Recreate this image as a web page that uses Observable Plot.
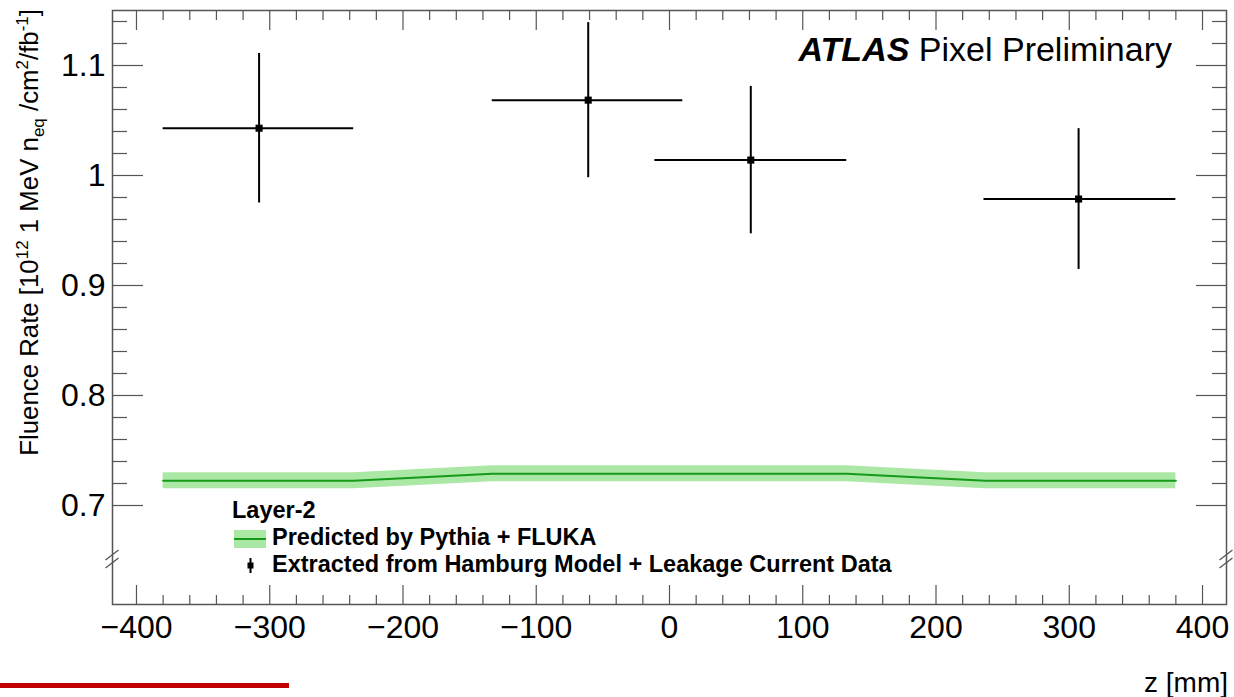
<!DOCTYPE html>
<html>
<head>
<meta charset="utf-8">
<script src="https://cdn.jsdelivr.net/npm/d3@7"></script>
<script src="https://cdn.jsdelivr.net/npm/@observablehq/plot@0.6"></script>
<style>
  body { margin: 0; background: #fff; }
  svg { font-family: "Liberation Sans", Arial, Helvetica, sans-serif; }
</style>
</head>
<body>
<div id="chart"></div>
<script>
// Measured data (Layer-2)
const zCenter = [-308, -61, 61, 307];
const zLow = [-380, -133, -11, 236];
const zHigh = [-237, 10, 133, 380];
const fluence = [1.043, 1.0685, 1.014, 0.9786];
const fluenceErr = [0.068, 0.0705, 0.067, 0.064];

// Prediction (Pythia + FLUKA)
const predZ = [-380, -237, -133, 133, 237, 380];
const predValue = [0.7225, 0.7225, 0.7288, 0.7288, 0.7225, 0.7225];
const predErr = [0.0073, 0.0073, 0.0073, 0.0073, 0.0073, 0.0073];

// Axis ticks
const xMajorTicks = [-400, -300, -200, -100, 0, 100, 200, 300, 400];
const xMinorTicks = [-380, -360, -340, -320, -280, -260, -240, -220, -180, -160, -140, -120,
  -80, -60, -40, -20, 20, 40, 60, 80, 120, 140, 160, 180, 220, 240, 260, 280, 320, 340, 360, 380];
const yMajorTicks = [0.7, 0.8, 0.9, 1.0, 1.1];
const yMinorTicks = [0.72, 0.74, 0.76, 0.78, 0.82, 0.84, 0.86, 0.88, 0.92, 0.94, 0.96, 0.98,
  1.02, 1.04, 1.06, 1.08, 1.12, 1.14];
const yBreak = 0.651;

const xDomain = [-418, 418];
const yDomain = [0.61, 1.15];

const points = zCenter.map((z, i) => ({z, lo: zLow[i], hi: zHigh[i], v: fluence[i], e: fluenceErr[i]}));
const pred = predZ.map((z, i) => ({z, v: predValue[i], e: predErr[i]}));

const axisColor = "#555";

const chart = Plot.plot({
  width: 1234,
  height: 697,
  marginLeft: 112,
  marginRight: 8,
  marginTop: 10,
  marginBottom: 93,
  style: {fontFamily: "'Liberation Sans', Arial, sans-serif", background: "#fff"},
  x: {domain: xDomain},
  y: {domain: yDomain},
  marks: [
    Plot.areaY(pred, {x: "z", y1: d => d.v - d.e, y2: d => d.v + d.e, fill: "#abe8a6"}),
    Plot.lineY(pred, {x: "z", y: "v", stroke: "#17991a", strokeWidth: 2}),
    Plot.ruleY(points, {x1: "lo", x2: "hi", y: "v", stroke: "#000", strokeWidth: 2}),
    Plot.ruleX(points, {x: "z", y1: d => d.v - d.e, y2: d => d.v + d.e, stroke: "#000", strokeWidth: 2}),
    Plot.dot(points, {x: "z", y: "v", symbol: "square", r: 4, fill: "#000", stroke: null}),
    Plot.frame({stroke: axisColor, strokeWidth: 1.5}),
    // bottom ticks (inward)
    Plot.axisX({anchor: "bottom", ticks: xMajorTicks, tickSize: -19, fill: "none", stroke: axisColor, strokeWidth: 1.2, label: null}),
    Plot.axisX({anchor: "bottom", ticks: xMinorTicks, tickSize: -9, fill: "none", stroke: axisColor, strokeWidth: 1.2, label: null}),
    // top ticks (inward)
    Plot.axisX({anchor: "top", ticks: xMajorTicks, tickSize: -19, fill: "none", stroke: axisColor, strokeWidth: 1.2, label: null}),
    Plot.axisX({anchor: "top", ticks: xMinorTicks, tickSize: -9, fill: "none", stroke: axisColor, strokeWidth: 1.2, label: null}),
    // x tick labels
    Plot.axisX({anchor: "bottom", ticks: xMajorTicks, tickSize: 0, tickPadding: 11, fontSize: 32, fill: "#000", label: null,
      tickFormat: d => (d < 0 ? "\u2212" + Math.abs(d) : String(d))}),
    // left ticks
    Plot.axisY({anchor: "left", ticks: yMajorTicks, tickSize: -31, fill: "none", stroke: axisColor, strokeWidth: 1.2, label: null}),
    Plot.axisY({anchor: "left", ticks: yMinorTicks, tickSize: -15, fill: "none", stroke: axisColor, strokeWidth: 1.2, label: null}),
    // right ticks
    Plot.axisY({anchor: "right", ticks: yMajorTicks, tickSize: -31, fill: "none", stroke: axisColor, strokeWidth: 1.2, label: null}),
    Plot.axisY({anchor: "right", ticks: yMinorTicks, tickSize: -15, fill: "none", stroke: axisColor, strokeWidth: 1.2, label: null}),
    // y tick labels
    Plot.axisY({anchor: "left", ticks: yMajorTicks, tickSize: 0, tickPadding: 7, fontSize: 32, fill: "#000", label: null,
      tickFormat: d => String(+d.toFixed(2))})
  ]
});

document.getElementById("chart").appendChild(chart);

const svg = d3.select(chart);
const ff = "'Liberation Sans', Arial, sans-serif";
const xs = chart.scale("x"), ys = chart.scale("y");

// axis break marks ("//") on both vertical axes, placed through the y scale
const by = ys.apply(yBreak);
for (const px of [xs.apply(xDomain[0]), xs.apply(xDomain[1])]) {
  for (const off of [-4, 4]) {
    svg.append("line")
      .attr("x1", px - 6.5).attr("y1", by + off + 5)
      .attr("x2", px + 6.5).attr("y2", by + off - 5)
      .attr("stroke", axisColor).attr("stroke-width", 1.3);
  }
}

// y-axis title
const yt = svg.append("text")
  .attr("transform", "translate(38,9) rotate(-90)")
  .attr("text-anchor", "end")
  .attr("font-size", 25.8)
  .attr("font-family", ff)
  .attr("fill", "#000");
yt.append("tspan").text("Fluence Rate [10");
yt.append("tspan").attr("font-size", 17).attr("dy", -10).text("12");
yt.append("tspan").attr("dy", 10).text(" 1 MeV n");
yt.append("tspan").attr("font-size", 17).attr("dy", 6).text("eq");
yt.append("tspan").attr("dy", -6).text(" /cm");
yt.append("tspan").attr("font-size", 17).attr("dy", -10).text("2");
yt.append("tspan").attr("dy", 10).text("/fb");
yt.append("tspan").attr("font-size", 17).attr("dy", -10).text("-1");
yt.append("tspan").attr("dy", 10).text("]");

// x-axis title
svg.append("text")
  .attr("x", 1228).attr("y", 692)
  .attr("text-anchor", "end")
  .attr("font-size", 28)
  .attr("font-family", ff)
  .attr("fill", "#000")
  .text("z [mm]");

// ATLAS label
const at = svg.append("text")
  .attr("x", 1172).attr("y", 61)
  .attr("text-anchor", "end")
  .attr("font-size", 34)
  .attr("font-family", ff)
  .attr("fill", "#000");
at.append("tspan").attr("font-weight", "bold").attr("font-style", "italic").text("ATLAS");
at.append("tspan").text(" Pixel Preliminary");

// Legend
const lg = svg.append("g").attr("font-family", ff).attr("font-weight", "bold").attr("font-size", 23.5)
  .attr("fill", "#000").attr("text-anchor", "start");
lg.append("text").attr("x", 232).attr("y", 518).attr("text-anchor", "start").text("Layer-2");
lg.append("rect").attr("x", 234).attr("y", 530).attr("width", 32).attr("height", 18).attr("fill", "#abe8a6");
lg.append("line").attr("x1", 234).attr("x2", 266).attr("y1", 539).attr("y2", 539).attr("stroke", "#17991a").attr("stroke-width", 2);
lg.append("text").attr("x", 272).attr("y", 545).attr("text-anchor", "start").text("Predicted by Pythia + FLUKA");
lg.append("line").attr("x1", 250.5).attr("x2", 250.5).attr("y1", 558).attr("y2", 573).attr("stroke", "#000").attr("stroke-width", 2);
lg.append("rect").attr("x", 247.5).attr("y", 562.5).attr("width", 6).attr("height", 6).attr("fill", "#000");
lg.append("text").attr("x", 272).attr("y", 572).attr("text-anchor", "start").text("Extracted from Hamburg Model + Leakage Current Data");

// decorative red bar
svg.append("rect").attr("x", 0).attr("y", 683).attr("width", 289).attr("height", 5).attr("fill", "#c00000");
</script>
</body>
</html>
